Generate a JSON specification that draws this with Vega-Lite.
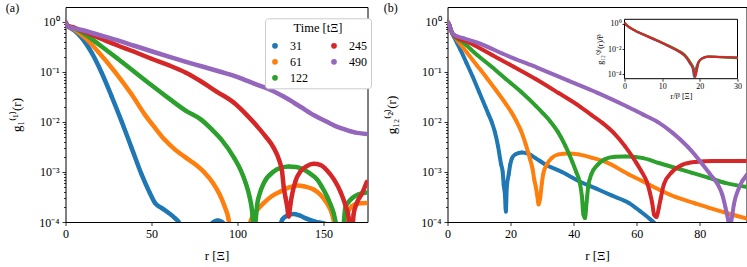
{
  "$schema": "https://vega.github.io/schema/vega-lite/v6.json",
  "background": "white",
  "padding": {"left": 4.5, "right": 2, "top": 1, "bottom": 2},
  "config": {
    "font": "Liberation Serif",
    "view": {"stroke": "#000000", "strokeWidth": 1},
    "axis": {"labelFont": "Liberation Serif", "titleFont": "Liberation Serif", "labelFontSize": 12, "titleFontSize": 13, "titleFontWeight": "normal", "labelColor": "#000000", "titleColor": "#000000", "tickColor": "#000000", "tickWidth": 0.8, "domain": false, "grid": false, "tickSize": 3.5, "labelPadding": 3, "labelFlush": false, "labelOverlap": false},
    "legend": {"labelFont": "Liberation Serif", "titleFont": "Liberation Serif", "labelColor": "#000000", "titleColor": "#000000", "titleFontWeight": "normal"}
  },
  "datasets": {
    "a": [
      {"t":31,"r":0,"g":1},{"t":31,"r":1,"g":0.832},{"t":31,"r":5,"g":0.676},{"t":31,"r":9.4,"g":0.479},{"t":31,"r":15.2,"g":0.24},{"t":31,"r":21,"g":0.0955},{"t":31,"r":26.8,"g":0.0324},{"t":31,"r":32.6,"g":0.0102},{"t":31,"r":38.4,"g":0.00302},{"t":31,"r":44.2,"g":0.000891},{"t":31,"r":49,"g":0.00038},{"t":31,"r":52,"g":0.00024},{"t":31,"r":55.8,"g":0.000191},{"t":31,"r":59.6,"g":0.000155},{"t":31,"r":63.5,"g":0.00012},{"t":31,"r":66.5,"g":0.0000891},{"t":31,"r":68,"g":0.0000398},{"t":31,"r":75,"g":0.0000316},{"t":31,"r":83,"g":0.0000501},{"t":31,"r":85,"g":0.0000933},{"t":31,"r":88.5,"g":0.000107},{"t":31,"r":92,"g":0.0000933},{"t":31,"r":94,"g":0.0000501},{"t":31,"r":110,"g":0.0000316},{"t":31,"r":123,"g":0.0000501},{"t":31,"r":126,"g":0.000112},{"t":31,"r":129,"g":0.000135},{"t":31,"r":132.5,"g":0.000145},{"t":31,"r":136,"g":0.000135},{"t":31,"r":140,"g":0.000117},{"t":31,"r":145,"g":0.000102},{"t":31,"r":150,"g":0.0000933},{"t":31,"r":156,"g":0.0000794},{"t":31,"r":160,"g":0.0000316},
      {"t":61,"r":0,"g":1},{"t":61,"r":1,"g":0.832},{"t":61,"r":5,"g":0.708},{"t":61,"r":11.3,"g":0.479},{"t":61,"r":19,"g":0.251},{"t":61,"r":28.7,"g":0.1},{"t":61,"r":38.4,"g":0.0355},{"t":61,"r":46,"g":0.0141},{"t":61,"r":52,"g":0.00759},{"t":61,"r":57.7,"g":0.00437},{"t":61,"r":63.5,"g":0.00282},{"t":61,"r":69.3,"g":0.002},{"t":61,"r":75,"g":0.00145},{"t":61,"r":81,"g":0.000955},{"t":61,"r":85.7,"g":0.000603},{"t":61,"r":89.6,"g":0.000355},{"t":61,"r":92.5,"g":0.000204},{"t":61,"r":94.8,"g":0.000112},{"t":61,"r":96.5,"g":0.0000398},{"t":61,"r":101,"g":0.0000316},{"t":61,"r":106.5,"g":0.0000501},{"t":61,"r":107.5,"g":0.000102},{"t":61,"r":111,"g":0.000166},{"t":61,"r":115.3,"g":0.00024},{"t":61,"r":120,"g":0.000331},{"t":61,"r":124.9,"g":0.000407},{"t":61,"r":130,"g":0.00049},{"t":61,"r":134.6,"g":0.000537},{"t":61,"r":139,"g":0.000513},{"t":61,"r":144.2,"g":0.000447},{"t":61,"r":148,"g":0.000355},{"t":61,"r":152,"g":0.000234},{"t":61,"r":155,"g":0.000141},{"t":61,"r":157,"g":0.0000708},{"t":61,"r":159,"g":0.0000316},{"t":61,"r":162,"g":0.0000631},{"t":61,"r":163.6,"g":0.000141},{"t":61,"r":166.2,"g":0.000204},{"t":61,"r":170,"g":0.000234},{"t":61,"r":175,"g":0.00024},
      {"t":122,"r":0,"g":1},{"t":122,"r":1,"g":0.851},{"t":122,"r":5,"g":0.741},{"t":122,"r":10,"g":0.603},{"t":122,"r":20,"g":0.339},{"t":122,"r":30,"g":0.186},{"t":122,"r":40,"g":0.1},{"t":122,"r":50,"g":0.0537},{"t":122,"r":60,"g":0.0295},{"t":122,"r":70,"g":0.0166},{"t":122,"r":78.6,"g":0.0112},{"t":122,"r":85,"g":0.00708},{"t":122,"r":90.5,"g":0.00447},{"t":122,"r":98,"g":0.00191},{"t":122,"r":102,"g":0.00105},{"t":122,"r":104.5,"g":0.000631},{"t":122,"r":107,"g":0.000316},{"t":122,"r":108.5,"g":0.000158},{"t":122,"r":109.6,"g":0.00005},{"t":122,"r":110.8,"g":0.000141},{"t":122,"r":111.4,"g":0.000224},{"t":122,"r":113,"g":0.00038},{"t":122,"r":115.3,"g":0.000603},{"t":122,"r":121,"g":0.00102},{"t":122,"r":125,"g":0.0012},{"t":122,"r":129.7,"g":0.00129},{"t":122,"r":134,"g":0.00126},{"t":122,"r":138.4,"g":0.00112},{"t":122,"r":142,"g":0.000933},{"t":122,"r":146.2,"g":0.000708},{"t":122,"r":149,"g":0.000501},{"t":122,"r":152,"g":0.000324},{"t":122,"r":154,"g":0.000224},{"t":122,"r":155.8,"g":0.000151},{"t":122,"r":157.5,"g":0.0000794},{"t":122,"r":159,"g":0.0000316},{"t":122,"r":161.5,"g":0.0000794},{"t":122,"r":162.6,"g":0.000191},{"t":122,"r":164.5,"g":0.000251},{"t":122,"r":166.7,"g":0.000302},{"t":122,"r":170,"g":0.000355},{"t":122,"r":173.2,"g":0.00038},{"t":122,"r":175,"g":0.000389},
      {"t":245,"r":0,"g":1},{"t":245,"r":1,"g":0.832},{"t":245,"r":5,"g":0.759},{"t":245,"r":10,"g":0.646},{"t":245,"r":20,"g":0.468},{"t":245,"r":30,"g":0.339},{"t":245,"r":40,"g":0.251},{"t":245,"r":50,"g":0.182},{"t":245,"r":60,"g":0.135},{"t":245,"r":70,"g":0.0955},{"t":245,"r":78.6,"g":0.0646},{"t":245,"r":88,"g":0.0398},{"t":245,"r":97.9,"g":0.024},{"t":245,"r":105,"g":0.0141},{"t":245,"r":111.4,"g":0.00813},{"t":245,"r":116,"g":0.00525},{"t":245,"r":121,"g":0.00302},{"t":245,"r":124,"g":0.00178},{"t":245,"r":125.9,"g":0.001},{"t":245,"r":126.8,"g":0.000501},{"t":245,"r":127.8,"g":0.000316},{"t":245,"r":128.8,"g":0.000204},{"t":245,"r":129.7,"g":0.000129},{"t":245,"r":130.7,"g":0.000224},{"t":245,"r":131.7,"g":0.000355},{"t":245,"r":133.6,"g":0.000646},{"t":245,"r":136.5,"g":0.00102},{"t":245,"r":140,"g":0.00129},{"t":245,"r":144.2,"g":0.00145},{"t":245,"r":148,"g":0.00138},{"t":245,"r":152,"g":0.00107},{"t":245,"r":156,"g":0.000708},{"t":245,"r":159.7,"g":0.000407},{"t":245,"r":162.6,"g":0.000219},{"t":245,"r":164.5,"g":0.000126},{"t":245,"r":165.5,"g":0.0000501},{"t":245,"r":166.5,"g":0.0000501},{"t":245,"r":167.4,"g":0.000141},{"t":245,"r":169.3,"g":0.00024},{"t":245,"r":172.3,"g":0.000372},{"t":245,"r":175.2,"g":0.000646},
      {"t":490,"r":0,"g":1},{"t":490,"r":1,"g":0.832},{"t":490,"r":2,"g":0.794},{"t":490,"r":10,"g":0.676},{"t":490,"r":20,"g":0.537},{"t":490,"r":30,"g":0.427},{"t":490,"r":40,"g":0.331},{"t":490,"r":50,"g":0.257},{"t":490,"r":60,"g":0.2},{"t":490,"r":70,"g":0.158},{"t":490,"r":80,"g":0.126},{"t":490,"r":90,"g":0.1},{"t":490,"r":98,"g":0.0832},{"t":490,"r":104,"g":0.0692},{"t":490,"r":110,"g":0.0575},{"t":490,"r":117,"g":0.0468},{"t":490,"r":127,"g":0.0316},{"t":490,"r":136.5,"g":0.02},{"t":490,"r":145,"g":0.0132},{"t":490,"r":152,"g":0.01},{"t":490,"r":158,"g":0.00794},{"t":490,"r":163,"g":0.00692},{"t":490,"r":168,"g":0.00617},{"t":490,"r":175,"g":0.00575}
    ],
    "b": [
      {"t":31,"r":0,"g":1},{"t":31,"r":0.5,"g":0.891},{"t":31,"r":1,"g":0.708},{"t":31,"r":1.5,"g":0.589},{"t":31,"r":2,"g":0.501},{"t":31,"r":3,"g":0.38},{"t":31,"r":4,"g":0.282},{"t":31,"r":6,"g":0.151},{"t":31,"r":8,"g":0.0794},{"t":31,"r":10,"g":0.0398},{"t":31,"r":12,"g":0.02},{"t":31,"r":13,"g":0.0141},{"t":31,"r":14,"g":0.01},{"t":31,"r":15,"g":0.00631},{"t":31,"r":16,"g":0.00331},{"t":31,"r":17,"g":0.00141},{"t":31,"r":17.5,"g":0.001},{"t":31,"r":17.8,"g":0.000562},{"t":31,"r":18.2,"g":0.000355},{"t":31,"r":18.5,"g":0.000162},{"t":31,"r":18.8,"g":0.000501},{"t":31,"r":19.4,"g":0.000891},{"t":31,"r":19.9,"g":0.00141},{"t":31,"r":20.4,"g":0.00186},{"t":31,"r":21.5,"g":0.00224},{"t":31,"r":23.6,"g":0.00245},{"t":31,"r":25.7,"g":0.00229},{"t":31,"r":27.8,"g":0.00191},{"t":31,"r":31,"g":0.00141},{"t":31,"r":36.3,"g":0.001},{"t":31,"r":41.6,"g":0.000661},{"t":31,"r":47,"g":0.000468},{"t":31,"r":52,"g":0.000339},{"t":31,"r":57.5,"g":0.00024},{"t":31,"r":61,"g":0.000166},{"t":31,"r":64,"g":0.000117},{"t":31,"r":66,"g":0.0000891},{"t":31,"r":68,"g":0.0000501},
      {"t":61,"r":0,"g":1},{"t":61,"r":0.5,"g":0.891},{"t":61,"r":1,"g":0.708},{"t":61,"r":1.5,"g":0.589},{"t":61,"r":2,"g":0.525},{"t":61,"r":3.1,"g":0.427},{"t":61,"r":6.2,"g":0.24},{"t":61,"r":9.3,"g":0.135},{"t":61,"r":12.4,"g":0.0759},{"t":61,"r":15.5,"g":0.0417},{"t":61,"r":18.6,"g":0.0224},{"t":61,"r":20.2,"g":0.0158},{"t":61,"r":21.7,"g":0.0107},{"t":61,"r":23.3,"g":0.00661},{"t":61,"r":24.8,"g":0.00355},{"t":61,"r":26.2,"g":0.00178},{"t":61,"r":27,"g":0.00112},{"t":61,"r":27.5,"g":0.000708},{"t":61,"r":28,"g":0.000501},{"t":61,"r":28.4,"g":0.000355},{"t":61,"r":28.9,"g":0.000224},{"t":61,"r":29.4,"g":0.000302},{"t":61,"r":29.9,"g":0.000589},{"t":61,"r":30.4,"g":0.000933},{"t":61,"r":31.5,"g":0.00141},{"t":61,"r":33.1,"g":0.00191},{"t":61,"r":35.2,"g":0.00224},{"t":61,"r":38.4,"g":0.00234},{"t":61,"r":41.6,"g":0.00224},{"t":61,"r":45.9,"g":0.00191},{"t":61,"r":50.1,"g":0.00158},{"t":61,"r":57.5,"g":0.000891},{"t":61,"r":61.7,"g":0.000661},{"t":61,"r":68,"g":0.000417},{"t":61,"r":72.3,"g":0.000316},{"t":61,"r":78.6,"g":0.000234},{"t":61,"r":83,"g":0.000191},{"t":61,"r":89,"g":0.000148},{"t":61,"r":95,"g":0.000117},
      {"t":122,"r":0,"g":1},{"t":122,"r":0.5,"g":0.891},{"t":122,"r":1,"g":0.708},{"t":122,"r":1.5,"g":0.589},{"t":122,"r":2,"g":0.525},{"t":122,"r":4.7,"g":0.398},{"t":122,"r":9.3,"g":0.219},{"t":122,"r":14,"g":0.126},{"t":122,"r":18.6,"g":0.0708},{"t":122,"r":23.3,"g":0.0398},{"t":122,"r":28,"g":0.0209},{"t":122,"r":30.3,"g":0.0148},{"t":122,"r":32.6,"g":0.0102},{"t":122,"r":35,"g":0.00631},{"t":122,"r":37.3,"g":0.00339},{"t":122,"r":39.6,"g":0.00158},{"t":122,"r":40.8,"g":0.001},{"t":122,"r":41.9,"g":0.000631},{"t":122,"r":42.6,"g":0.000331},{"t":122,"r":43.1,"g":0.000141},{"t":122,"r":43.6,"g":0.00012},{"t":122,"r":44.1,"g":0.000251},{"t":122,"r":44.6,"g":0.000501},{"t":122,"r":45.6,"g":0.000891},{"t":122,"r":47.7,"g":0.00141},{"t":122,"r":49.8,"g":0.00178},{"t":122,"r":53,"g":0.002},{"t":122,"r":56.4,"g":0.00204},{"t":122,"r":61.7,"g":0.00191},{"t":122,"r":67,"g":0.00151},{"t":122,"r":72.3,"g":0.0012},{"t":122,"r":77.6,"g":0.000955},{"t":122,"r":82.9,"g":0.000759},{"t":122,"r":88.1,"g":0.000603},{"t":122,"r":95,"g":0.000501},
      {"t":245,"r":0,"g":1},{"t":245,"r":0.5,"g":0.891},{"t":245,"r":1,"g":0.708},{"t":245,"r":1.5,"g":0.589},{"t":245,"r":2,"g":0.537},{"t":245,"r":7,"g":0.38},{"t":245,"r":14,"g":0.219},{"t":245,"r":21,"g":0.126},{"t":245,"r":28.1,"g":0.0708},{"t":245,"r":35.1,"g":0.038},{"t":245,"r":42.1,"g":0.02},{"t":245,"r":45.6,"g":0.0138},{"t":245,"r":49.1,"g":0.00955},{"t":245,"r":52.7,"g":0.00603},{"t":245,"r":56.2,"g":0.00331},{"t":245,"r":59.7,"g":0.00158},{"t":245,"r":61.4,"g":0.00105},{"t":245,"r":63.2,"g":0.000631},{"t":245,"r":64.2,"g":0.00038},{"t":245,"r":64.9,"g":0.00024},{"t":245,"r":65.5,"g":0.000141},{"t":245,"r":66.3,"g":0.000126},{"t":245,"r":67,"g":0.000191},{"t":245,"r":67.6,"g":0.000295},{"t":245,"r":68.6,"g":0.000562},{"t":245,"r":71.2,"g":0.001},{"t":245,"r":74.4,"g":0.00138},{"t":245,"r":78.6,"g":0.00158},{"t":245,"r":84,"g":0.00166},{"t":245,"r":90,"g":0.00166},{"t":245,"r":95,"g":0.00166},
      {"t":490,"r":0,"g":1},{"t":490,"r":0.5,"g":0.891},{"t":490,"r":1,"g":0.708},{"t":490,"r":1.5,"g":0.589},{"t":490,"r":2,"g":0.55},{"t":490,"r":5,"g":0.468},{"t":490,"r":9.5,"g":0.38},{"t":490,"r":19,"g":0.209},{"t":490,"r":28.6,"g":0.12},{"t":490,"r":38.1,"g":0.0676},{"t":490,"r":47.6,"g":0.038},{"t":490,"r":57.1,"g":0.02},{"t":490,"r":61.9,"g":0.0141},{"t":490,"r":66.6,"g":0.01},{"t":490,"r":71.4,"g":0.00603},{"t":490,"r":76.2,"g":0.00316},{"t":490,"r":80.9,"g":0.00141},{"t":490,"r":83.3,"g":0.000891},{"t":490,"r":85.7,"g":0.000562},{"t":490,"r":87.1,"g":0.000355},{"t":490,"r":88.1,"g":0.0002},{"t":490,"r":88.8,"g":0.000126},{"t":490,"r":89.5,"g":0.0000794},{"t":490,"r":90.2,"g":0.000126},{"t":490,"r":90.8,"g":0.000224},{"t":490,"r":92.4,"g":0.000479},{"t":490,"r":95,"g":0.000891}
    ],
    "inset": [
      {"t":31,"x":0,"g":1.1},{"t":31,"x":0.5,"g":0.78},{"t":31,"x":2.8,"g":0.275},{"t":31,"x":5,"g":0.138},{"t":31,"x":7.3,"g":0.067},{"t":31,"x":9.5,"g":0.034},{"t":31,"x":11.7,"g":0.0165},{"t":31,"x":14.3,"g":0.0065},{"t":31,"x":16.1,"g":0.0026},{"t":31,"x":17.4,"g":0.0007},{"t":31,"x":18.1,"g":0.0003},{"t":31,"x":18.5,"g":0.00006},{"t":31,"x":19,"g":0.0003},{"t":31,"x":19.5,"g":0.0008},{"t":31,"x":20.5,"g":0.0017},{"t":31,"x":22.3,"g":0.0025},{"t":31,"x":25,"g":0.0024},{"t":31,"x":30,"g":0.0021},
      {"t":122,"x":0,"g":1.2},{"t":122,"x":0.5,"g":0.81},{"t":122,"x":2.8,"g":0.29},{"t":122,"x":5,"g":0.146},{"t":122,"x":7.3,"g":0.073},{"t":122,"x":9.5,"g":0.038},{"t":122,"x":11.7,"g":0.019},{"t":122,"x":14.3,"g":0.0078},{"t":122,"x":16.1,"g":0.0033},{"t":122,"x":17.4,"g":0.001},{"t":122,"x":18.3,"g":0.00035},{"t":122,"x":18.9,"g":0.00012},{"t":122,"x":19.3,"g":0.0003},{"t":122,"x":19.7,"g":0.0009},{"t":122,"x":20.5,"g":0.0018},{"t":122,"x":22.3,"g":0.0025},{"t":122,"x":25,"g":0.0023},{"t":122,"x":30,"g":0.0019},
      {"t":245,"x":0,"g":1.2},{"t":245,"x":0.5,"g":0.794},{"t":245,"x":2.8,"g":0.282},{"t":245,"x":5,"g":0.141},{"t":245,"x":7.3,"g":0.0692},{"t":245,"x":9.5,"g":0.0355},{"t":245,"x":11.7,"g":0.0174},{"t":245,"x":14.3,"g":0.00692},{"t":245,"x":16.1,"g":0.00282},{"t":245,"x":17.4,"g":0.000832},{"t":245,"x":18.3,"g":0.000251},{"t":245,"x":18.8,"g":0.0000631},{"t":245,"x":19.2,"g":0.000251},{"t":245,"x":19.6,"g":0.000832},{"t":245,"x":20.5,"g":0.00174},{"t":245,"x":22.3,"g":0.00251},{"t":245,"x":25,"g":0.00234},{"t":245,"x":30,"g":0.00209}
    ]
  },
  "spacing": 10,
  "resolve": {"legend": {"color": "independent"}},
  "hconcat": [
    {
      "width": 302,
      "height": 215,
      "title": {"text": "(a)", "anchor": "start", "frame": "bounds", "offset": -8, "dx": -5, "fontSize": 12, "fontWeight": "normal", "font": "Liberation Serif", "color": "#000000"},
      "data": {"name": "a"},
      "encoding": {
        "x": {"field": "r", "type": "quantitative", "scale": {"domain": [0, 175.5], "nice": false, "zero": false}, "axis": {"values": [0, 50, 100, 150], "title": "r [Ξ]", "titlePadding": 10}},
        "y": {"field": "g", "type": "quantitative", "scale": {"type": "log", "domain": [0.0001, 1.966], "nice": false}, "axis": {"title": "g₁⁽¹⁾(r)", "titlePadding": 15, "values": [0.0001,0.0002,0.0003,0.0004,0.0005,0.0006,0.0007,0.0008,0.0009,0.001,0.002,0.003,0.004,0.005,0.006,0.007,0.008,0.009,0.01,0.02,0.03,0.04,0.05,0.06,0.07,0.08,0.09,0.1,0.2,0.3,0.4,0.5,0.6,0.7,0.8,0.9,1], "labelExpr": "datum.value == 1 ? '10⁰' : datum.value == 0.1 ? '10⁻¹' : datum.value == 0.01 ? '10⁻²' : datum.value == 0.001 ? '10⁻³' : datum.value == 0.0001 ? '10⁻⁴' : ''", "tickSize": {"condition": {"test": "indexof([1,0.1,0.01,0.001,0.0001], datum.value) >= 0", "value": 3.5}, "value": 2}}},
        "color": {"field": "t", "type": "nominal", "scale": {"domain": [31, 61, 122, 245, 490], "range": ["#1f77b4", "#ff7f0e", "#2ca02c", "#d62728", "#9467bd"]}, "legend": {"title": "Time [tΞ]", "orient": "none", "legendX": 199.5, "legendY": 11.3, "columns": 2, "symbolType": "circle", "symbolSize": 18, "labelFontSize": 12, "titleFontSize": 12.5, "titleFontWeight": "normal", "titleAnchor": "middle", "strokeColor": "#cccccc", "fillColor": "white", "padding": 4, "cornerRadius": 3, "rowPadding": 4, "columnPadding": 20, "labelOffset": 9, "titlePadding": 5}}
      },
      "layer": [
        {"mark": {"type": "point", "filled": true, "size": 16, "opacity": 1, "clip": true}},
        {"mark": {"type": "line", "strokeWidth": 4.5, "clip": true, "interpolate": "monotone"}}
      ]
    },
    {
      "width": 299,
      "height": 215,
      "title": {"text": "(b)", "anchor": "start", "frame": "bounds", "offset": -8, "dx": -2, "fontSize": 12, "fontWeight": "normal", "font": "Liberation Serif", "color": "#000000"},
      "resolve": {"scale": {"x": "independent", "y": "independent"}, "axis": {"x": "independent", "y": "independent"}},
      "layer": [
        {
          "data": {"name": "b"},
          "encoding": {
            "x": {"field": "r", "type": "quantitative", "scale": {"domain": [0, 94.8], "nice": false, "zero": false}, "axis": {"orient": "bottom", "values": [0, 20, 40, 60, 80], "title": "r [Ξ]", "titlePadding": 10}},
            "y": {"field": "g", "type": "quantitative", "scale": {"type": "log", "domain": [0.0001, 1.966], "nice": false}, "axis": {"orient": "left", "title": "g₁₂⁽²⁾(r)", "titlePadding": 22, "values": [0.0001,0.0002,0.0003,0.0004,0.0005,0.0006,0.0007,0.0008,0.0009,0.001,0.002,0.003,0.004,0.005,0.006,0.007,0.008,0.009,0.01,0.02,0.03,0.04,0.05,0.06,0.07,0.08,0.09,0.1,0.2,0.3,0.4,0.5,0.6,0.7,0.8,0.9,1], "labelExpr": "datum.value == 1 ? '10⁰' : datum.value == 0.1 ? '10⁻¹' : datum.value == 0.01 ? '10⁻²' : datum.value == 0.001 ? '10⁻³' : datum.value == 0.0001 ? '10⁻⁴' : ''", "tickSize": {"condition": {"test": "indexof([1,0.1,0.01,0.001,0.0001], datum.value) >= 0", "value": 3.5}, "value": 2}}},
            "color": {"field": "t", "type": "nominal", "scale": {"domain": [31, 61, 122, 245, 490], "range": ["#1f77b4", "#ff7f0e", "#2ca02c", "#d62728", "#9467bd"]}, "legend": null}
          },
          "layer": [
            {"mark": {"type": "point", "filled": true, "size": 14, "opacity": 1, "clip": true}},
            {"mark": {"type": "line", "strokeWidth": 4, "clip": true, "interpolate": "monotone"}}
          ]
        },
        {
          "data": {"values": [{}]},
          "mark": {"type": "rect", "fill": "white", "stroke": "#000000", "strokeWidth": 1},
          "encoding": {
            "x": {"datum": 0, "type": "quantitative", "scale": {"domain": [0, 30], "range": [177, 290], "nice": false, "zero": false}, "axis": null},
            "x2": {"datum": 30},
            "y": {"datum": 0.0000449, "type": "quantitative", "scale": {"type": "log", "domain": [0.0000449, 2.23], "range": [71.7, 12.3], "nice": false}, "axis": null},
            "y2": {"datum": 2.23}
          }
        },
        {
          "data": {"name": "inset"},
          "mark": {"type": "line", "strokeWidth": 2.2, "interpolate": "monotone"},
          "encoding": {
            "x": {"field": "x", "type": "quantitative", "scale": {"domain": [0, 30], "range": [177, 290], "nice": false, "zero": false}, "axis": {"orient": "bottom", "offset": -143.3, "values": [0, 10, 20, 30], "labelFontSize": 8, "tickSize": 2.5, "labelPadding": 1, "title": "r/t̄ᵝ [Ξ]", "titleFontSize": 8, "titlePadding": 2, "zindex": 1}},
            "y": {"field": "g", "type": "quantitative", "scale": {"type": "log", "domain": [0.0000449, 2.23], "range": [71.7, 12.3], "nice": false}, "axis": {"orient": "left", "offset": -177, "values": [1, 0.01, 0.0001], "labelExpr": "datum.value == 1 ? '10⁰' : datum.value == 0.01 ? '10⁻²' : '10⁻⁴'", "labelFontSize": 8, "tickSize": 2.5, "labelPadding": 1, "title": "g₁₂⁽²⁾(r)/t̄ᵟ", "titleFontSize": 8, "titlePadding": 3, "zindex": 1}},
            "color": {"field": "t", "type": "nominal", "scale": {"domain": [31, 61, 122, 245, 490], "range": ["#1f77b4", "#ff7f0e", "#2ca02c", "#d62728", "#9467bd"]}, "legend": null}
          }
        }
      ]
    }
  ]
}
